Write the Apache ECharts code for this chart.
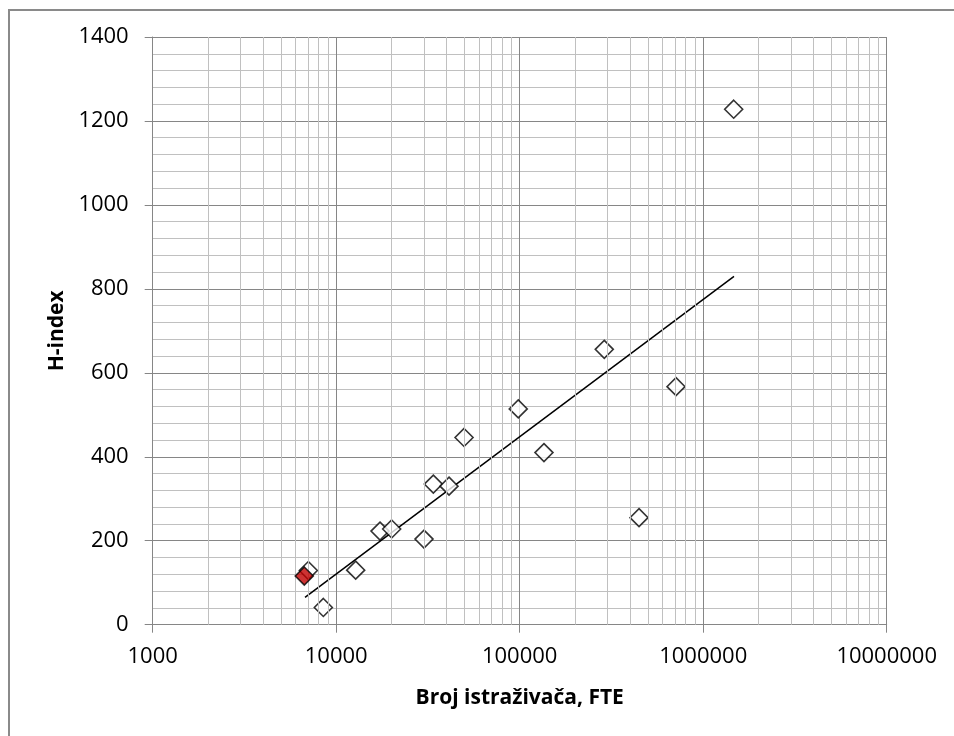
<!DOCTYPE html>
<html>
<head>
<meta charset="utf-8">
<script src="https://cdn.jsdelivr.net/npm/echarts@6/dist/echarts.min.js"></script>
<style>
html,body{margin:0;padding:0;background:#fff;}
#chart{width:954px;height:736px;}
</style>
</head>
<body>
<div id="chart"></div>
<script>
// Data
var researchersFTE = [7050, 8510, 12770, 17330, 20060, 30100, 33830, 41200, 49750, 98200, 135600, 289000, 447000, 711000, 1466000];
var hIndex         = [129,  41,   130,   223,   228,   204,   335,   330,   446,   514,   410,    656,    255,    567,    1228];
var highlightFTE = [6700];
var highlightH   = [116];
var trendFTE = [6760, 1472000];
var trendH   = [65, 830];
var xTickValues = [1000, 10000, 100000, 1000000, 10000000];
var xTickLabels = ['1000', '10000', '100000', '1000000', '10000000'];
var xMinorMultipliers = [2, 3, 4, 5, 6, 7, 8, 9];

var FONT = 'Open Sans';
var MAJOR = '#868686';
var MINOR = '#c0c0c0';

function zip(a, b) { return a.map(function (v, i) { return [v, b[i]]; }); }

var minorLines = [];
for (var d = 0; d < xTickValues.length - 1; d++) {
  xMinorMultipliers.forEach(function (m) { minorLines.push({ xAxis: xTickValues[d] * m }); });
}

var chart = echarts.init(document.getElementById('chart'), null, { renderer: 'canvas' });
chart.setOption({
  animation: false,
  backgroundColor: '#fff',
  graphic: [{
    type: 'polyline',
    shape: { points: [[9, 740], [9, 10], [960, 10]] },
    style: { stroke: '#8a8a8a', lineWidth: 2, fill: null },
    silent: true
  }],
  grid: { left: 152.7, right: 67.3, top: 37, bottom: 111.3, containLabel: false },
  xAxis: {
    type: 'log',
    logBase: 10,
    min: 1000,
    max: 10000000,
    name: 'Broj istraživača, FTE',
    nameLocation: 'middle',
    nameGap: 63,
    nameTextStyle: { fontFamily: FONT, fontWeight: 'bold', fontSize: 21, color: '#000' },
    axisLine: { show: true, lineStyle: { color: MAJOR, width: 1 } },
    axisTick: { show: true, inside: false, length: 8, lineStyle: { color: MAJOR } },
    axisLabel: {
      margin: 21, fontFamily: FONT, fontSize: 22, color: '#000',
      formatter: function (v) {
        var i = xTickValues.indexOf(Math.round(v));
        return i >= 0 ? xTickLabels[i] : '';
      }
    },
    splitLine: { show: true, lineStyle: { color: MAJOR, width: 1 } },
    minorTick: { show: false },
    minorSplitLine: { show: false }
  },
  yAxis: {
    type: 'value',
    min: 0,
    max: 1400,
    interval: 200,
    name: 'H-index',
    nameLocation: 'middle',
    nameGap: 76,
    nameTextStyle: { fontFamily: FONT, fontWeight: 'bold', fontSize: 21, color: '#000' },
    axisLine: { show: true, lineStyle: { color: MAJOR, width: 1 } },
    axisTick: { show: true, inside: false, length: 8, lineStyle: { color: MAJOR } },
    axisLabel: {
      margin: 24, fontFamily: FONT, fontSize: 22, color: '#000',
      formatter: function (v) { return String(v); }
    },
    splitLine: { show: true, lineStyle: { color: MAJOR, width: 1 } },
    minorTick: { show: false, splitNumber: 5 },
    minorSplitLine: { show: true, lineStyle: { color: MINOR, width: 1 } }
  },
  series: [
    {
      type: 'line',
      data: [],
      z: 1,
      silent: true,
      markLine: {
        silent: true,
        symbol: ['none', 'none'],
        label: { show: false },
        lineStyle: { color: MINOR, width: 1, type: 'solid' },
        data: minorLines,
        animation: false
      }
    },
    {
      type: 'line',
      data: zip(trendFTE, trendH),
      showSymbol: false,
      symbol: 'none',
      z: 3,
      lineStyle: { color: '#000', width: 1.5 }
    },
    {
      type: 'scatter',
      data: zip(researchersFTE, hIndex),
      symbol: 'diamond',
      symbolSize: 18,
      z: 4,
      itemStyle: { color: '#fff', borderColor: '#000', borderWidth: 1.6 }
    },
    {
      type: 'scatter',
      data: zip(highlightFTE, highlightH),
      symbol: 'diamond',
      symbolSize: 18,
      z: 5,
      itemStyle: { color: '#c00000', borderColor: '#000', borderWidth: 1.6 }
    }
  ]
});
</script>
</body>
</html>
